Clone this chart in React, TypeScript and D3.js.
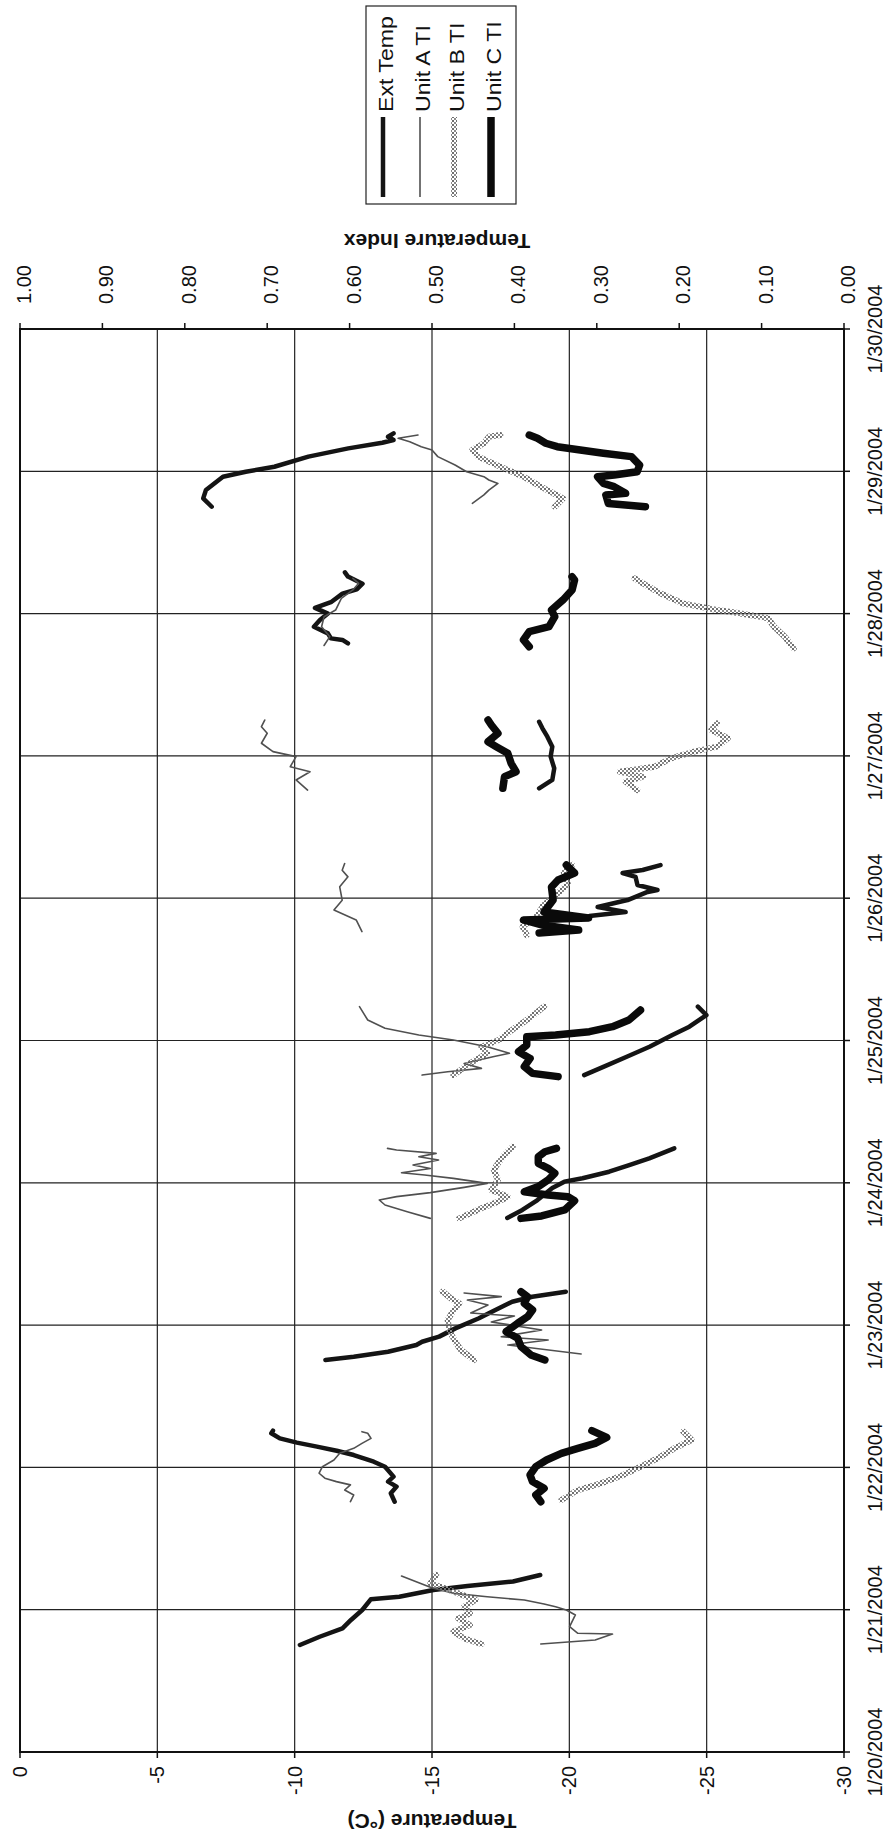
import React from "react";
import * as d3 from "d3";

const W = 890;
const H = 1838;

// axis ticks / labels
const dateLabels = ["1/20/2004", "1/21/2004", "1/22/2004", "1/23/2004", "1/24/2004", "1/25/2004", "1/26/2004", "1/27/2004", "1/28/2004", "1/29/2004", "1/30/2004"];
const tempTicks = [0, -5, -10, -15, -20, -25, -30];
const indexTicks = [1.0, 0.9, 0.8, 0.7, 0.6, 0.5, 0.4, 0.3, 0.2, 0.1, 0.0];
const seriesNames = ["Ext Temp", "Unit A TI", "Unit B TI", "Unit C TI"];

// data: [days after 1/20/2004 00:00, value]; null = gap between logging periods
type P = [number, number] | null;

const extTemp: P[] = [
  [0.752, -10.19], [0.81, -10.91], [0.869, -11.74], [0.928, -12.05], [0.998, -12.46], [1.073, -12.77], [1.091, -13.81], [1.138, -15.05], [1.167, -16.29], [1.198, -17.95], [1.244, -18.94],
  null,
  [1.759, -13.64], [1.818, -13.5], [1.865, -13.71], [1.9, -13.4], [1.935, -13.6], [2.005, -13.29], [2.04, -12.88], [2.087, -12.15], [2.117, -11.53], [2.146, -10.81], [2.174, -10.08], [2.204, -9.46], [2.24, -9.15], [2.258, -9.21],
  null,
  [2.755, -11.12], [2.778, -12.15], [2.813, -13.4], [2.86, -14.43], [2.883, -14.64], [2.919, -15.26], [2.977, -15.85], [3.048, -16.71], [3.083, -17.07], [3.164, -17.92], [3.199, -18.65], [3.235, -19.87],
  null,
  [3.753, -17.74], [3.809, -18.29], [3.879, -18.84], [3.963, -19.38], [4.008, -19.82], [4.032, -20.48], [4.078, -21.45], [4.125, -22.18], [4.172, -22.91], [4.242, -23.82],
  null,
  [4.757, -20.54], [4.816, -21.26], [4.886, -22.09], [4.956, -22.92], [5.039, -23.75], [5.097, -24.37], [5.179, -24.99], [5.238, -24.68],
  null,
  [5.875, -20.73], [5.903, -22.05], [5.938, -21.03], [5.987, -22.12], [6.044, -22.85], [6.058, -23.21], [6.093, -22.48], [6.15, -22.41], [6.177, -21.94], [6.198, -22.67], [6.233, -23.32],
  null,
  [6.772, -18.9], [6.831, -19.38], [6.913, -19.45], [6.995, -19.32], [7.065, -19.38], [7.135, -19.2], [7.194, -19.02], [7.24, -18.9],
  null,
  [7.791, -11.94], [7.815, -11.74], [7.826, -11.32], [7.861, -11.21], [7.908, -10.7], [7.955, -10.92], [8.0, -11.21], [8.04, -10.74], [8.08, -11.32], [8.14, -11.74], [8.17, -12.26], [8.21, -12.47], [8.26, -11.94], [8.29, -11.83],
  null,
  [8.751, -6.98], [8.81, -6.67], [8.868, -6.77], [8.962, -7.39], [8.997, -8.22], [9.032, -9.26], [9.103, -10.5], [9.161, -11.95], [9.201, -13.19], [9.22, -13.6], [9.243, -13.4], [9.267, -13.6],
];

const unitA: P[] = [
  [0.759, 0.368], [0.787, 0.302], [0.829, 0.281], [0.834, 0.323], [0.881, 0.333], [0.963, 0.326], [0.998, 0.337], [1.021, 0.35], [1.04, 0.364], [1.068, 0.388], [1.091, 0.433], [1.115, 0.474], [1.157, 0.502], [1.19, 0.516], [1.237, 0.537],
  null,
  [1.759, 0.599], [1.806, 0.595], [1.841, 0.606], [1.877, 0.599], [1.9, 0.616], [1.924, 0.63], [1.959, 0.637], [2.005, 0.633], [2.052, 0.619], [2.099, 0.612], [2.134, 0.595], [2.169, 0.585], [2.204, 0.574], [2.24, 0.578], [2.251, 0.585],
  null,
  [2.797, 0.319], [2.86, 0.408], [2.895, 0.359], [2.918, 0.416], [2.966, 0.367], [3.022, 0.428], [3.064, 0.4], [3.085, 0.453], [3.141, 0.432], [3.176, 0.457], [3.2, 0.416], [3.226, 0.461],
  null,
  [3.75, 0.502], [3.797, 0.53], [3.844, 0.557], [3.879, 0.564], [3.903, 0.543], [3.931, 0.502], [3.968, 0.461], [3.996, 0.433], [4.031, 0.474], [4.055, 0.509], [4.071, 0.537], [4.101, 0.502], [4.125, 0.523], [4.16, 0.492], [4.183, 0.516], [4.207, 0.495], [4.23, 0.543], [4.242, 0.554],
  null,
  [4.757, 0.512], [4.78, 0.481], [4.804, 0.44], [4.839, 0.461], [4.886, 0.426], [4.91, 0.406], [4.956, 0.433], [5.003, 0.474], [5.039, 0.516], [5.086, 0.557], [5.144, 0.578], [5.238, 0.588],
  null,
  [5.765, 0.585], [5.847, 0.592], [5.917, 0.619], [5.986, 0.609], [6.08, 0.612], [6.15, 0.602], [6.197, 0.609], [6.244, 0.606],
  null,
  [6.76, 0.651], [6.831, 0.665], [6.889, 0.648], [6.924, 0.672], [6.995, 0.665], [7.03, 0.693], [7.089, 0.707], [7.159, 0.7], [7.205, 0.707], [7.252, 0.703],
  null,
  [7.776, 0.631], [7.838, 0.624], [7.908, 0.634], [7.978, 0.631], [8.025, 0.617], [8.107, 0.61], [8.166, 0.596], [8.213, 0.589], [8.248, 0.596],
  null,
  [8.775, 0.451], [8.834, 0.437], [8.868, 0.431], [8.915, 0.42], [8.939, 0.431], [8.962, 0.437], [8.997, 0.458], [9.044, 0.472], [9.103, 0.493], [9.15, 0.5], [9.173, 0.513], [9.208, 0.527], [9.232, 0.541], [9.255, 0.517],
];

const unitB: P[] = [
  [0.759, 0.44], [0.799, 0.461], [0.846, 0.474], [0.892, 0.454], [0.939, 0.468], [0.974, 0.454], [1.021, 0.461], [1.068, 0.447], [1.115, 0.468], [1.143, 0.481], [1.185, 0.502], [1.244, 0.495],
  null,
  [1.771, 0.343], [1.841, 0.323], [1.888, 0.295], [1.947, 0.268], [2.005, 0.247], [2.064, 0.226], [2.134, 0.206], [2.193, 0.185], [2.251, 0.195],
  null,
  [2.755, 0.449], [2.825, 0.465], [2.895, 0.473], [2.966, 0.479], [3.036, 0.481], [3.094, 0.475], [3.153, 0.467], [3.188, 0.477], [3.235, 0.487],
  null,
  [3.75, 0.467], [3.821, 0.44], [3.867, 0.42], [3.902, 0.408], [3.949, 0.428], [4.02, 0.42], [4.09, 0.425], [4.137, 0.42], [4.196, 0.412], [4.254, 0.402],
  null,
  [4.757, 0.474], [4.839, 0.454], [4.91, 0.433], [4.956, 0.44], [5.003, 0.419], [5.062, 0.406], [5.144, 0.385], [5.238, 0.364],
  null,
  [5.741, 0.385], [5.8, 0.39], [5.88, 0.372], [5.95, 0.365], [6.02, 0.35], [6.1, 0.335], [6.18, 0.34], [6.233, 0.33],
  null,
  [6.76, 0.251], [6.819, 0.265], [6.854, 0.244], [6.889, 0.272], [6.924, 0.23], [6.983, 0.21], [7.03, 0.182], [7.065, 0.154], [7.124, 0.141], [7.182, 0.161], [7.229, 0.154],
  null,
  [7.755, 0.061], [7.838, 0.072], [7.908, 0.085], [7.967, 0.092], [8.002, 0.127], [8.025, 0.154], [8.072, 0.196], [8.143, 0.223], [8.213, 0.244], [8.248, 0.254],
  null,
  [8.751, 0.351], [8.81, 0.341], [8.892, 0.368], [8.962, 0.389], [9.032, 0.417], [9.103, 0.444], [9.15, 0.451], [9.197, 0.437], [9.243, 0.431], [9.255, 0.417],
];

const unitC: P[] = [
  [1.759, 0.368], [1.806, 0.374], [1.853, 0.364], [1.9, 0.378], [1.947, 0.381], [2.005, 0.374], [2.052, 0.361], [2.099, 0.343], [2.134, 0.323], [2.169, 0.302], [2.211, 0.288], [2.258, 0.306],
  null,
  [2.755, 0.363], [2.79, 0.38], [2.848, 0.392], [2.907, 0.396], [2.954, 0.41], [3.013, 0.396], [3.059, 0.384], [3.106, 0.378], [3.153, 0.388], [3.2, 0.384], [3.235, 0.392],
  null,
  [3.75, 0.392], [3.767, 0.367], [3.809, 0.339], [3.874, 0.327], [3.902, 0.335], [3.914, 0.359], [3.937, 0.388], [3.973, 0.371], [4.02, 0.359], [4.067, 0.351], [4.102, 0.359], [4.137, 0.371], [4.183, 0.371], [4.218, 0.363], [4.242, 0.349],
  null,
  [4.746, 0.347], [4.769, 0.378], [4.816, 0.388], [4.874, 0.381], [4.921, 0.395], [4.968, 0.385], [5.027, 0.385], [5.039, 0.35], [5.062, 0.309], [5.097, 0.281], [5.144, 0.261], [5.214, 0.247],
  null,
  [5.755, 0.37], [5.777, 0.322], [5.812, 0.367], [5.847, 0.389], [5.861, 0.31], [5.903, 0.364], [5.987, 0.353], [6.079, 0.355], [6.128, 0.347], [6.177, 0.327], [6.233, 0.337],
  null,
  [6.772, 0.414], [6.854, 0.412], [6.889, 0.398], [6.948, 0.404], [7.018, 0.408], [7.065, 0.422], [7.1, 0.432], [7.159, 0.42], [7.217, 0.428], [7.252, 0.432],
  null,
  [7.767, 0.382], [7.815, 0.389], [7.873, 0.382], [7.908, 0.358], [7.978, 0.351], [8.025, 0.355], [8.096, 0.341], [8.166, 0.33], [8.236, 0.327], [8.259, 0.33],
  null,
  [8.751, 0.241], [8.774, 0.286], [8.833, 0.289], [8.845, 0.265], [8.892, 0.279], [8.915, 0.292], [8.962, 0.299], [8.974, 0.279], [8.997, 0.251], [9.044, 0.248], [9.103, 0.258], [9.127, 0.292], [9.15, 0.32], [9.173, 0.348], [9.197, 0.362], [9.232, 0.372], [9.255, 0.382],
];

// ---------- layout ----------
const PL = 20; // plot left (temp 0 / index 1.00)
const PR = 844; // plot right (temp -30 / index 0.00)
const PB = 1752; // 1/20/2004
const PT = 329; // 1/30/2004
const FONT = "'Liberation Sans', Arial, Helvetica, sans-serif";

function parseLabel(s: string): Date {
  const [m, d, y] = s.split("/").map(Number);
  return new Date(y, m - 1, d);
}
const dates = dateLabels.map(parseLabel);
const BASE = dates[0];
const toDate = (t: number) => new Date(BASE.getTime() + t * 86400000);

const yScale = d3.scaleTime().domain([dates[0], dates[dates.length - 1]]).range([PB, PT]);
const tScale = d3.scaleLinear().domain([0, -30]).range([PL, PR]);
const iScale = d3.scaleLinear().domain([1, 0]).range([PL, PR]);

function makePath(data: P[], xs: d3.ScaleLinear<number, number>): string {
  const gen = d3
    .line<P>()
    .defined((d) => d !== null)
    .x((d) => xs((d as [number, number])[1]))
    .y((d) => yScale(toDate((d as [number, number])[0])));
  return gen(data) || "";
}

const styles = [
  { stroke: "#141414", width: 4.5 },
  { stroke: "#505050", width: 1.6 },
  { stroke: "url(#stip)", width: 6 },
  { stroke: "#0a0a0a", width: 7.5 },
];

export default function App() {
  const fmtIdx = d3.format(".2f");
  const paths = [
    makePath(extTemp, tScale),
    makePath(unitA, iScale),
    makePath(unitB, iScale),
    makePath(unitC, iScale),
  ];
  const legendX = [383, 420, 454, 491];
  return (
    <svg width={W} height={H} style={{ position: "absolute", left: 0, top: 0, background: "#fff" }} fontFamily={FONT}>
      <defs>
        <pattern id="stip" width="4" height="4" patternUnits="userSpaceOnUse">
          <rect x="0" y="0" width="2" height="2" fill="#6e6e6e" />
          <rect x="2" y="2" width="2" height="2" fill="#8a8a8a" />
        </pattern>
      </defs>
      <rect x={0} y={0} width={W} height={H} fill="#fff" />

      {/* gridlines */}
      {tempTicks.map((t) => (
        <line key={"gv" + t} x1={tScale(t)} x2={tScale(t)} y1={PT} y2={PB} stroke="#222" strokeWidth={1.2} />
      ))}
      {dates.map((d, i) => (
        <line key={"gh" + i} x1={PL} x2={PR} y1={yScale(d)} y2={yScale(d)} stroke="#222" strokeWidth={1.2} />
      ))}

      {/* plot border */}
      <rect x={PL} y={PT} width={PR - PL} height={PB - PT} fill="none" stroke="#111" strokeWidth={2} />

      {/* ticks */}
      {tempTicks.map((t) => (
        <line key={"tt" + t} x1={tScale(t)} x2={tScale(t)} y1={PB} y2={PB + 6} stroke="#111" strokeWidth={1.5} />
      ))}
      {dates.map((d, i) => (
        <line key={"td" + i} x1={PR} x2={PR + 6} y1={yScale(d)} y2={yScale(d)} stroke="#111" strokeWidth={1.5} />
      ))}
      {indexTicks.map((v) => (
        <line key={"ti" + v} x1={iScale(v)} x2={iScale(v)} y1={PT} y2={PT - 6} stroke="#111" strokeWidth={1.5} />
      ))}

      {/* series */}
      {paths.map((p, i) => (
        <path key={"s" + i} d={p} fill="none" stroke={styles[i].stroke} strokeWidth={styles[i].width} strokeLinejoin="round" strokeLinecap="round" />
      ))}

      {/* temperature labels */}
      {tempTicks.map((t) => (
        <text key={"lt" + t} transform={`translate(${tScale(t)},${PB + 14}) rotate(-90)`} textAnchor="end" dy="0.35em" fontSize={20} fill="#111">
          {String(t)}
        </text>
      ))}
      {/* date labels */}
      {dates.map((d, i) => (
        <text key={"ld" + i} transform={`translate(875,${yScale(d)}) rotate(-90)`} textAnchor="middle" dy="0.35em" fontSize={20} fill="#111">
          {dateLabels[i]}
        </text>
      ))}
      {/* index labels */}
      {indexTicks.map((v) => (
        <text key={"li" + v} transform={`translate(${iScale(v) + 4},${PT - 25}) rotate(-90)`} textAnchor="start" dy="0.35em" fontSize={20} fill="#111">
          {fmtIdx(v)}
        </text>
      ))}

      {/* axis titles (upside-down) */}
      <text transform={`translate(${(PL + PR) / 2 + 5},241) rotate(180)`} textAnchor="middle" dy="0.35em" fontSize={21} fontWeight="bold" fill="#111">
        Temperature Index
      </text>
      <text transform={`translate(${(PL + PR) / 2},1821) rotate(180)`} textAnchor="middle" dy="0.35em" fontSize={21} fontWeight="bold" fill="#111">
        Temperature (°C)
      </text>

      {/* legend */}
      <rect x={366} y={6} width={150} height={198} fill="#fff" stroke="#222" strokeWidth={1.2} />
      {seriesNames.map((n, i) => (
        <g key={"lg" + i}>
          <line x1={legendX[i]} x2={legendX[i]} y1={197} y2={117} stroke={styles[i].stroke} strokeWidth={styles[i].width} />
          <text transform={`translate(${legendX[i] + 3},112) rotate(-90) scale(1.1,1)`} textAnchor="start" dy="0.35em" fontSize={21} fill="#111">
            {n}
          </text>
        </g>
      ))}
    </svg>
  );
}
